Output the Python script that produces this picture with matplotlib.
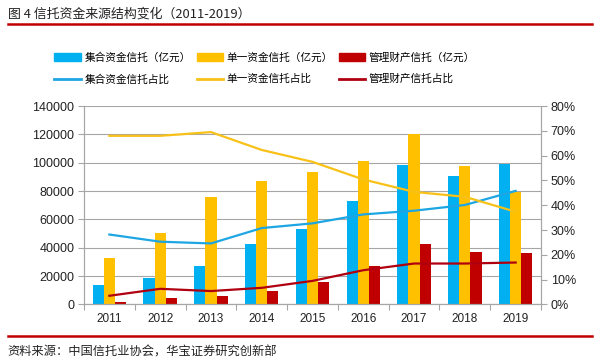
import numpy as np
import matplotlib.pyplot as plt
from matplotlib.patches import Patch
from matplotlib.lines import Line2D
from matplotlib.ticker import FuncFormatter

plt.rcParams['font.family'] = ['Liberation Sans', 'Noto Sans CJK SC', 'DejaVu Sans']

years = ['2011', '2012', '2013', '2014', '2015', '2016', '2017', '2018', '2019']
# 规模（亿元）
jihe = [13400, 18600, 26800, 42600, 52900, 72900, 98400, 90600, 98800]
danyi = [32500, 50600, 75800, 87300, 93200, 100900, 120000, 97700, 79500]
guanli = [1650, 4700, 5900, 9200, 15500, 27300, 42800, 37200, 36200]
# 占比（%）
jihe_pct = [28.2, 25.3, 24.6, 30.8, 32.7, 36.3, 37.8, 40.1, 45.8]
danyi_pct = [68.0, 68.0, 69.5, 62.3, 57.5, 50.4, 45.4, 43.4, 37.4]
guanli_pct = [3.5, 6.3, 5.4, 6.7, 9.5, 13.8, 16.5, 16.5, 16.9]

c_blue = '#00B0F0'
c_yellow = '#FFC000'
c_red = '#C00000'
c_blue_ln = '#1DA6E3'
c_yellow_ln = '#F8C118'
c_red_ln = '#B00010'
grid_c = '#A6A6A6'

fig = plt.figure(figsize=(6.0, 3.62), dpi=100)
ax = fig.add_axes([0.14, 0.159, 0.7617, 0.548])
ax2 = ax.twinx()

x = np.arange(len(years))
w = 0.22
ax.bar(x - w, jihe, w, color=c_blue, zorder=2)
ax.bar(x, danyi, w, color=c_yellow, zorder=2)
ax.bar(x + w, guanli, w, color=c_red, zorder=2)

ax2.plot(x, jihe_pct, color=c_blue_ln, lw=1.6)
ax2.plot(x, danyi_pct, color=c_yellow_ln, lw=1.6)
ax2.plot(x, guanli_pct, color=c_red_ln, lw=1.6)

ax.set_xlim(-0.5, len(years) - 0.5)
ax.set_ylim(0, 140000)
ax.set_yticks(np.arange(0, 140001, 20000))
ax2.set_ylim(0, 80)
ax2.set_yticks(np.arange(0, 81, 10))
ax2.yaxis.set_major_formatter(FuncFormatter(lambda v, p: f'{int(v)}%'))

ax.yaxis.grid(True, color=grid_c, lw=0.8, zorder=0)
ax.set_axisbelow(True)

# x ticks at category boundaries, labels in the middle
ax.set_xticks(np.arange(-0.5, len(years), 1.0))
ax.set_xticklabels([])
ax.set_xticks(x, minor=True)
ax.set_xticklabels(years, minor=True, fontsize=8.5, color='#222222')
ax.tick_params(axis='x', which='minor', length=0, pad=6)
ax.tick_params(axis='x', which='major', length=4, color=grid_c, direction='out')
ax.tick_params(axis='y', length=4, color=grid_c, labelsize=9, labelcolor='#222222', pad=3)
ax2.tick_params(axis='y', length=4, color=grid_c, labelsize=9, labelcolor='#222222', pad=3)

for a in (ax, ax2):
    a.spines['top'].set_visible(False)
    for s in ('left', 'right', 'bottom'):
        a.spines[s].set_color(grid_c)
        a.spines[s].set_linewidth(0.8)

handles = [
    Patch(color=c_blue), Line2D([], [], color=c_blue_ln, lw=2),
    Patch(color=c_yellow), Line2D([], [], color=c_yellow_ln, lw=2),
    Patch(color=c_red), Line2D([], [], color=c_red_ln, lw=2),
]
labels = [
    '集合资金信托（亿元）', '集合资金信托占比',
    '单一资金信托（亿元）', '单一资金信托占比',
    '管理财产信托（亿元）', '管理财产信托占比',
]
fig.legend(handles, labels, ncol=3, loc='center', bbox_to_anchor=(0.441, 0.811),
           frameon=False, prop={'family': ['Noto Sans CJK SC'], 'size': 7.7},
           handlelength=2.5, handleheight=0.7, columnspacing=0.56,
           labelspacing=1.05, handletextpad=0.3, borderpad=0.2)

fig.text(0.013, 0.962, '图 4 信托资金来源结构变化（2011-2019）', fontsize=9.3,
         family=['Noto Sans CJK SC'], va='center', ha='left', color='#222222')
fig.add_artist(Line2D([0.013, 0.987], [0.934, 0.934], color=c_red, lw=1.8,
                      transform=fig.transFigure))
fig.add_artist(Line2D([0.013, 0.987], [0.072, 0.072], color=c_red, lw=1.8,
                      transform=fig.transFigure))
fig.text(0.013, 0.028, '资料来源：中国信托业协会，华宝证券研究创新部', fontsize=8.8,
         family=['Noto Sans CJK SC'], va='center', ha='left', color='#222222')

fig.savefig('out.png', dpi=100)
